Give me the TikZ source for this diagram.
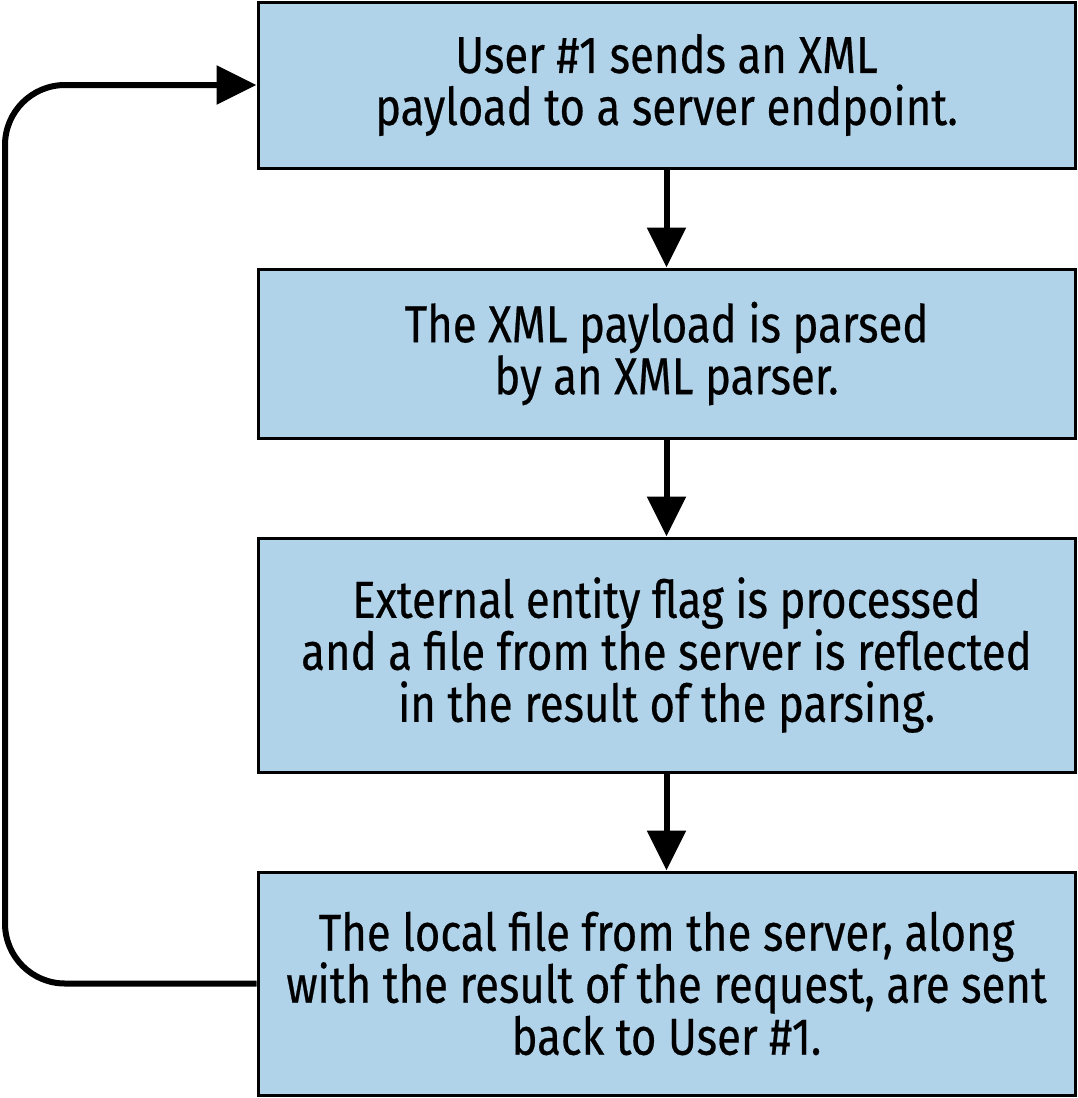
\documentclass[tikz,border=0pt]{standalone}
\usepackage{fontspec}
\setmainfont{Fira Sans}[FakeStretch=0.84,FakeBold=0.4]
\usetikzlibrary{arrows.meta}
\definecolor{boxblue}{HTML}{B0D3EA}
\begin{document}
\begin{tikzpicture}[x=1pt,y=-1pt,
  stepbox/.style={draw=black, line width=3pt, fill=boxblue, minimum width=817pt,
    align=center, inner sep=0pt, font=\fontsize{52}{52}\selectfont},
  conn/.style={line width=6pt, -{Triangle[length=40pt,width=38pt]}}]
\useasboundingbox (0,0) rectangle (1078,1098);
\node[stepbox, minimum height=166pt] (b1) at (666.5,85) {User \#1 sends an XML\\payload to a server endpoint.};
\node[stepbox, minimum height=169pt] (b2) at (666.5,353.5) {The XML payload is parsed\\by an XML parser.};
\node[stepbox, minimum height=234pt] (b3) at (666.5,655) {External entity flag is processed\\and a file from the server is reflected\\in the result of the parsing.};
\node[stepbox, minimum height=223pt] (b4) at (666.5,983.5) {The local file from the server, along\\with the result of the request, are sent\\back to User \#1.};
\draw[conn] (b1.south) -- (b2.north);
\draw[conn] (b2.south) -- (b3.north);
\draw[conn] (b3.south) -- (b4.north);
\coordinate (c1) at (5,983.5);
\coordinate (c2) at (5,85);
\draw[conn, rounded corners=60pt] (b4.west) -- (c1) -- (c2) -- (b1.west);
\end{tikzpicture}
\end{document}
